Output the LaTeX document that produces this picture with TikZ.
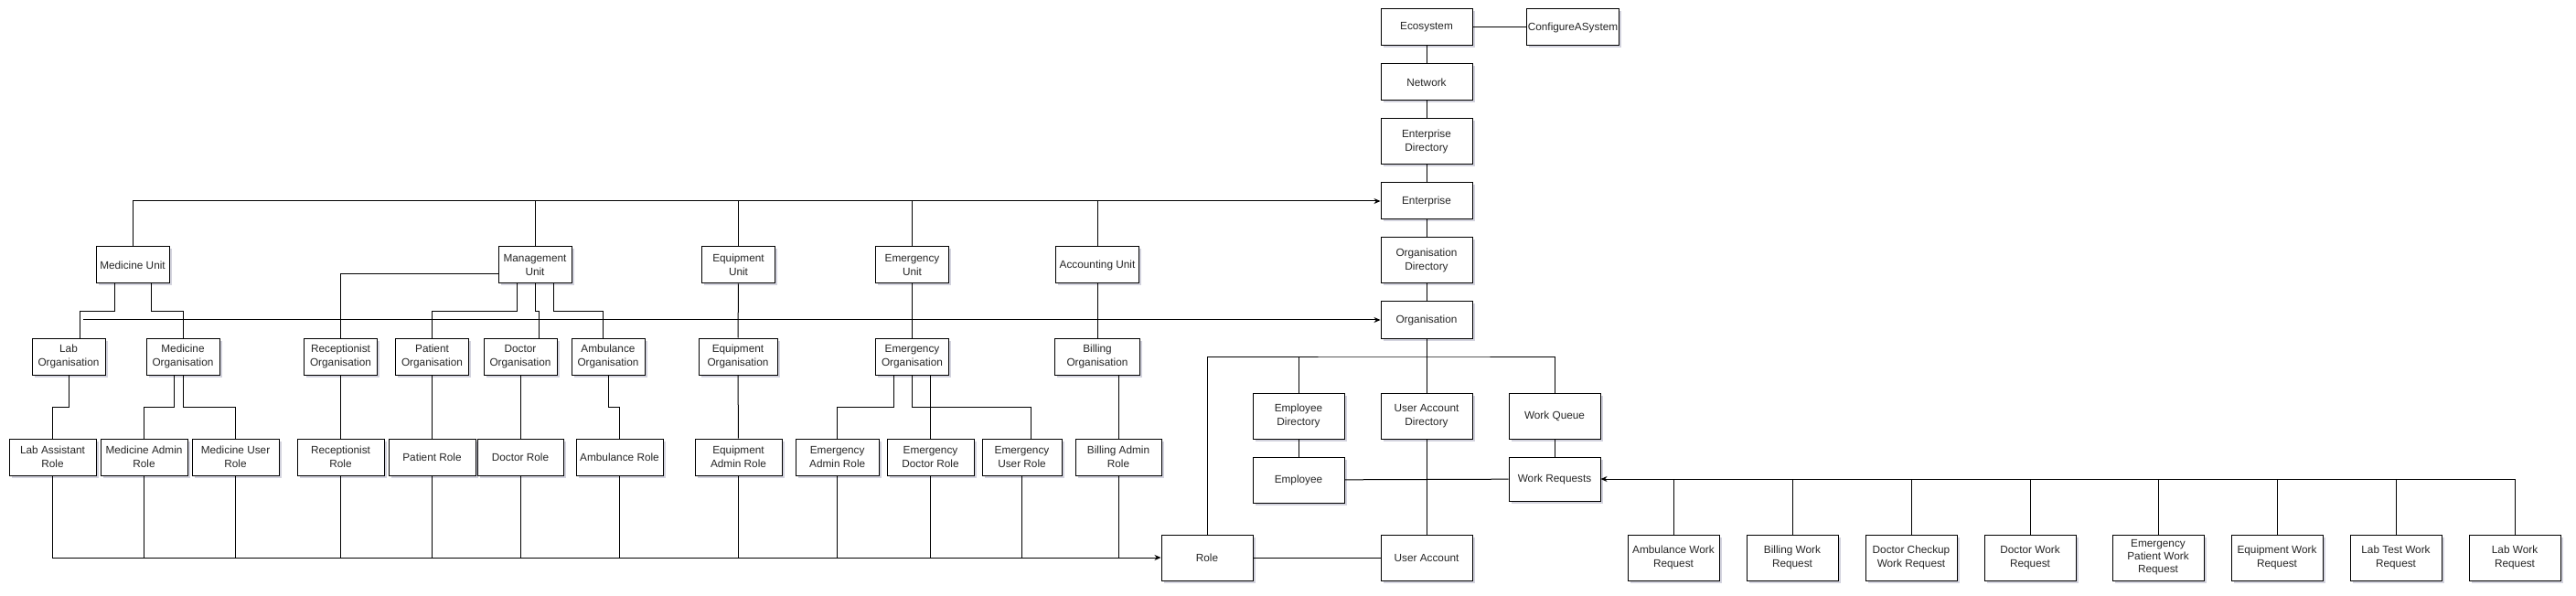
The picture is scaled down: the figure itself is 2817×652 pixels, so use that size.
\documentclass[tikz,border=0pt]{standalone}
\usepackage{fontspec}
\setmainfont{Liberation Sans}
\usetikzlibrary{arrows.meta}
\usetikzlibrary{shadows}

\begin{document}
\begin{tikzpicture}[x=1pt,y=-1pt,
    box/.style={draw,fill=white,line width=1pt,inner sep=1pt,align=center,
      minimum width=100pt,minimum height=40pt,text=black!85,
      font=\fontsize{11.8}{14.5}\selectfont,
      drop shadow={shadow xshift=2.5pt,shadow yshift=-2.5pt,opacity=0.3,fill=blue!15!gray}},
    bigbox/.style={box,minimum height=50pt},
    unitbox/.style={box,minimum width=80pt},
    rolebox/.style={box,minimum width=95pt},
    link/.style={line width=1pt},
    feed/.style={line width=1pt,-{Stealth[length=7pt,width=6pt]}}]
\useasboundingbox (0,0) rectangle (2817,652);

% system chain
\node[box] (eco) at (1560,30) {Ecosystem};
\node[box] (cfg) at (1720,30) {ConfigureASystem};
\node[box] (net) at (1560,90) {Network};
\node[bigbox] (entdir) at (1560,155) {Enterprise\\Directory};
\node[box] (ent) at (1560,220) {Enterprise};
\node[bigbox] (orgdir) at (1560,285) {Organisation\\Directory};
\node[box] (org) at (1560,350) {Organisation};
\node[bigbox] (empdir) at (1420,455) {Employee\\Directory};
\node[bigbox] (uadir) at (1560,455) {User Account\\Directory};
\node[bigbox] (wq) at (1700,455) {Work Queue};
\node[bigbox] (emp) at (1420,525) {Employee};
\node[box,minimum height=48pt] (wr) at (1700,524) {Work Requests};
\node[bigbox] (role) at (1320,610) {Role};
\node[bigbox] (ua) at (1560,610) {User Account};

% work requests
\node[bigbox] (ambwr) at (1830,610) {Ambulance Work\\Request};
\node[bigbox] (billwr) at (1960,610) {Billing Work\\Request};
\node[bigbox] (chkwr) at (2090,610) {Doctor Checkup\\Work Request};
\node[bigbox] (docwr) at (2220,610) {Doctor Work\\Request};
\node[bigbox,font=\fontsize{11.8}{14}\selectfont] (emwr) at (2360,610) {Emergency\\Patient Work\\Request};
\node[bigbox] (eqwr) at (2490,610) {Equipment Work\\Request};
\node[bigbox] (labtwr) at (2620,610) {Lab Test Work\\Request};
\node[bigbox] (labwr) at (2750,610) {Lab Work\\Request};

% units
\node[unitbox] (medunit) at (145,290) {Medicine Unit};
\node[unitbox] (mgmtunit) at (585,290) {Management\\Unit};
\node[unitbox] (equnit) at (807.5,290) {Equipment\\Unit};
\node[unitbox] (emunit) at (997.5,290) {Emergency\\Unit};
\node[unitbox,minimum width=91pt] (accunit) at (1200,290) {Accounting Unit};

% organisations
\node[unitbox] (laborg) at (75,390) {Lab\\Organisation};
\node[unitbox] (medorg) at (200,390) {Medicine\\Organisation};
\node[unitbox] (recorg) at (372.5,390) {Receptionist\\Organisation};
\node[unitbox] (patorg) at (472.5,390) {Patient\\Organisation};
\node[unitbox] (docorg) at (569,390) {Doctor\\Organisation};
\node[unitbox] (amborg) at (665,390) {Ambulance\\Organisation};
\node[unitbox,minimum width=86pt] (eqorg) at (807,390) {Equipment\\Organisation};
\node[unitbox] (emorg) at (997.5,390) {Emergency\\Organisation};
\node[unitbox,minimum width=93pt] (billorg) at (1200,390) {Billing\\Organisation};

% roles
\node[rolebox] (labrole) at (57.5,500) {Lab Assistant\\Role};
\node[rolebox] (medadmin) at (157.5,500) {Medicine Admin\\Role};
\node[rolebox] (meduser) at (257.5,500) {Medicine User\\Role};
\node[rolebox] (recrole) at (372.5,500) {Receptionist\\Role};
\node[rolebox] (patrole) at (472.5,500) {Patient Role};
\node[rolebox,minimum width=94pt] (docrole) at (569,500) {Doctor Role};
\node[rolebox] (ambrole) at (677.5,500) {Ambulance Role};
\node[rolebox] (eqadmin) at (807.5,500) {Equipment\\Admin Role};
\node[rolebox,minimum width=91pt] (emadmin) at (915.7,500) {Emergency\\Admin Role};
\node[rolebox] (emdoc) at (1017.5,500) {Emergency\\Doctor Role};
\node[rolebox,minimum width=87pt] (emuser) at (1117.5,500) {Emergency\\User Role};
\node[rolebox,minimum width=94pt] (billadmin) at (1223,500) {Billing Admin\\Role};

% chain links
\draw[link] (eco) -- (cfg);
\draw[link] (eco) -- (net);
\draw[link] (net) -- (entdir);
\draw[link] (entdir) -- (ent);
\draw[link] (ent) -- (orgdir);
\draw[link] (orgdir) -- (org);
\draw[link] (org) -- (uadir);
\draw[link] (uadir) -- (ua);
\coordinate (orgbus) at (1560,390);
\draw[link] (role.north) |- (orgbus) -| (wq.north);
\draw[link] (empdir.north) -- (empdir.north |- orgbus);
\draw[link] (empdir) -- (emp);
\draw[link] (wq) -- (wr);
\draw[link] (emp) -- (wr);
\draw[link] (role) -- (ua);

% work request bus
\draw[feed] (labwr.north) |- (wr.east);
\draw[link] (ambwr.north) -- (ambwr.north |- wr.east);
\draw[link] (billwr.north) -- (billwr.north |- wr.east);
\draw[link] (chkwr.north) -- (chkwr.north |- wr.east);
\draw[link] (docwr.north) -- (docwr.north |- wr.east);
\draw[link] (emwr.north) -- (emwr.north |- wr.east);
\draw[link] (eqwr.north) -- (eqwr.north |- wr.east);
\draw[link] (labtwr.north) -- (labtwr.north |- wr.east);

% enterprise bus
\draw[feed] (medunit.north) |- (ent.west);
\draw[link] (mgmtunit.north) -- (mgmtunit.north |- ent.west);
\draw[link] (equnit.north) -- (equnit.north |- ent.west);
\draw[link] (emunit.north) -- (emunit.north |- ent.west);
\draw[link] (accunit.north) -- (accunit.north |- ent.west);

% organisation bus
\coordinate (orgstart) at (91,350);
\draw[feed] (orgstart) -- (org.west);

% unit to organisation
\draw[link] ([xshift=-20pt]medunit.south) -- ++(0,30) -| ([xshift=12.5pt]laborg.north);
\draw[link] ([xshift=20pt]medunit.south) -- ++(0,30) -| (medorg.north);
\draw[link] ([yshift=-10pt]mgmtunit.west) -| (recorg.north);
\draw[link] ([xshift=-20pt]mgmtunit.south) -- ++(0,30) -| (patorg.north);
\draw[link] (mgmtunit.south) -- ++(0,30) -| ([xshift=20pt]docorg.north);
\draw[link] ([xshift=20pt]mgmtunit.south) -- ++(0,30) -| ([xshift=-6pt]amborg.north);
\draw[link] (equnit) -- (eqorg);
\draw[link] (emunit) -- (emorg);
\draw[link] (accunit) -- (billorg);

% organisation to role
\draw[link] (laborg.south) -- ++(0,35) -| (labrole.north);
\draw[link] ([xshift=-10pt]medorg.south) -- ++(0,35) -| (medadmin.north);
\draw[link] (medorg.south) -- ++(0,35) -| (meduser.north);
\draw[link] (recorg) -- (recrole);
\draw[link] (patorg) -- (patrole);
\draw[link] (docorg) -- (docrole);
\draw[link] (amborg.south) -- ++(0,35) -| (ambrole.north);
\draw[link] (eqorg) -- (eqadmin);
\draw[link] ([xshift=-20pt]emorg.south) -- ++(0,35) -| (emadmin.north);
\draw[link] ([xshift=20pt]emorg.south) -- (emdoc.north);
\draw[link] (emorg.south) -- ++(0,35) -| ([xshift=10pt]emuser.north);
\draw[link] ([xshift=23pt]billorg.south) -- ([xshift=23pt]billorg.south |- billadmin.north);

% role bus
\draw[feed] (labrole.south) |- (role.west);
\draw[link] (medadmin.south) -- (medadmin.south |- role.west);
\draw[link] (meduser.south) -- (meduser.south |- role.west);
\draw[link] (recrole.south) -- (recrole.south |- role.west);
\draw[link] (patrole.south) -- (patrole.south |- role.west);
\draw[link] (docrole.south) -- (docrole.south |- role.west);
\draw[link] (ambrole.south) -- (ambrole.south |- role.west);
\draw[link] (eqadmin.south) -- (eqadmin.south |- role.west);
\draw[link] (emadmin.south) -- (emadmin.south |- role.west);
\draw[link] (emdoc.south) -- (emdoc.south |- role.west);
\draw[link] (emuser.south) -- (emuser.south |- role.west);
\draw[link] (billadmin.south) -- (billadmin.south |- role.west);
\end{tikzpicture}
\end{document}
